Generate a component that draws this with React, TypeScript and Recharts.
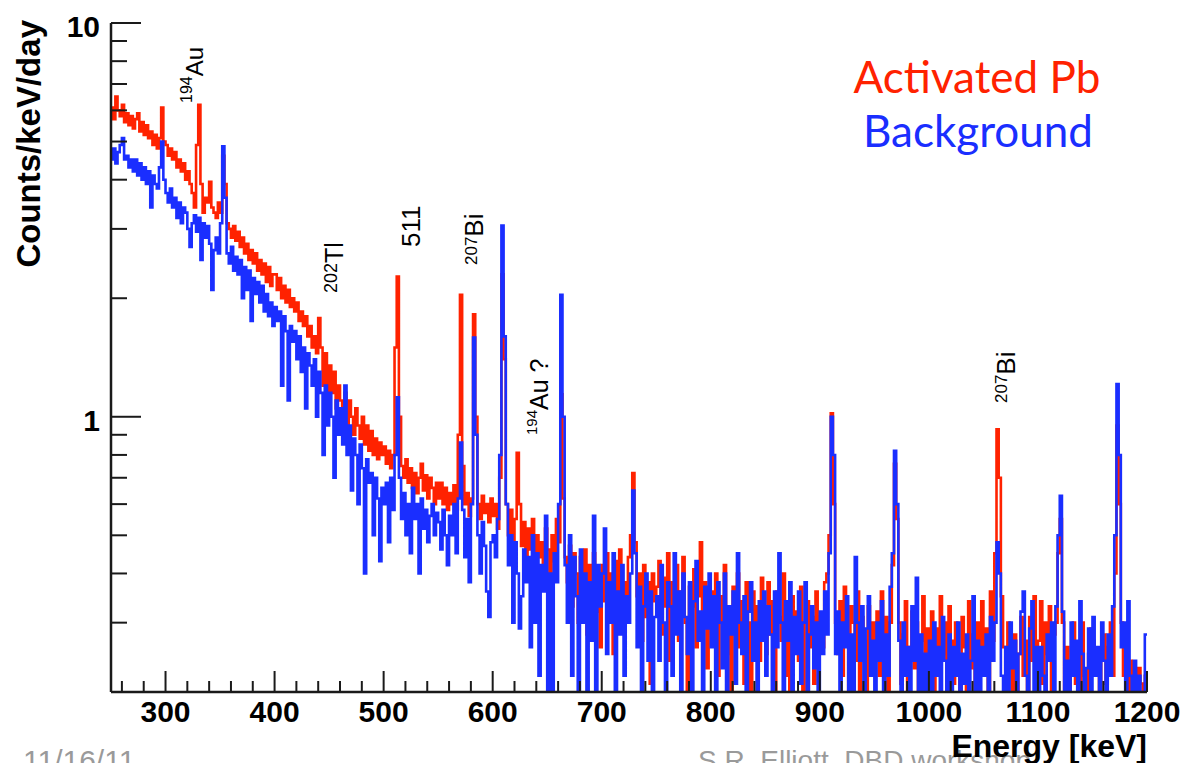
import { LineChart, Line, XAxis, YAxis } from 'recharts'

// 2 keV bins starting at 250 keV, one row of 25 bins per 50 keV
const binStart = 250
const binWidth = 2

// Activated Pb, counts/keV/day
const activated = [
  6.1, 5.7, 6.5, 6.0, 5.8, 6.2, 5.6, 5.9, 5.5, 5.8, 5.4, 5.7, 5.9, 5.3, 5.6, 5.2, 5.5, 5.1, 5.3, 4.9, 5.2, 4.8, 5.1, 6.1, 5.0,
  4.9, 4.6, 4.8, 4.5, 4.7, 4.3, 4.5, 4.2, 4.4, 4.0, 4.2, 3.9, 3.7, 3.4, 4.9, 6.2, 3.9, 3.3, 3.6, 3.5, 3.95, 3.4, 3.3, 3.2, 3.5,
  3.3, 4.6, 3.9, 3.1, 3.0, 2.85, 3.05, 2.8, 2.95, 2.7, 2.85, 2.6, 2.75, 2.5, 2.65, 2.45, 2.6, 2.35, 2.5, 2.3, 2.45, 2.2, 2.4, 2.15, 2.3,
  2.3, 2.1, 2.25, 2.0, 2.15, 1.95, 2.1, 1.9, 2.0, 1.85, 1.95, 1.75, 1.85, 1.7, 1.8, 1.6, 1.7, 1.5, 1.6, 1.45, 1.78, 1.5, 1.2, 1.45, 1.15,
  1.35, 1.15, 1.3, 1.05, 1.2, 1.1, 1.0, 1.15, 0.95, 1.1, 1.0, 0.9, 1.05, 0.95, 0.88, 1.0, 0.85, 0.95, 0.82, 0.92, 0.8, 0.88, 0.78, 0.86, 0.8,
  0.84, 0.76, 0.82, 0.74, 0.8, 1.5, 2.27, 1.0, 0.75, 0.7, 0.78, 0.68, 0.74, 0.66, 0.72, 0.64, 0.7, 0.76, 0.65, 0.71, 0.62, 0.7, 0.66, 0.6, 0.68,
  0.62, 0.68, 0.6, 0.66, 0.58, 0.64, 0.6, 0.67, 0.58, 0.9, 2.04, 0.75, 0.6, 0.64, 0.56, 0.62, 1.82, 1.0, 0.6, 0.55, 0.63, 0.57, 0.6, 0.54, 0.62,
  0.56, 0.6, 0.52, 0.7, 2.3, 1.4, 0.6, 0.5, 0.58, 0.48, 0.55, 0.81, 0.6, 0.47, 0.54, 0.44, 0.52, 0.46, 0.55, 0.42, 0.5, 0.44, 0.48, 0.4, 0.52,
  0.46, 0.4, 0.5, 0.43, 0.55, 0.48, 1.14, 0.62, 0.44, 0.38, 0.47, 0.33, 0.45, 0.4, 0.3, 0.44, 0.37, 0.46, 0.28, 0.42, 0.35, 0.45, 0.32, 0.4, 0.26,
  0.42, 0.34, 0.45, 0.3, 0.4, 0.25, 0.43, 0.36, 0.46, 0.29, 0.38, 0.33, 0.44, 0.5, 0.72, 0.48, 0.35, 0.4, 0.27, 0.42, 0.31, 0.38, 0.21, 0.4, 0.34,
  0.37, 0.43, 0.28, 0.39, 0.33, 0.45, 0.24, 0.38, 0.31, 0.42, 0.27, 0.36, 0.44, 0.3, 0.19, 0.37, 0.33, 0.41, 0.26, 0.35, 0.48, 0.3, 0.38, 0.23, 0.34,
  0.36, 0.28, 0.4, 0.22, 0.35, 0.3, 0.42, 0.25, 0.33, 0.18, 0.37, 0.29, 0.4, 0.26, 0.34, 0.21, 0.38, 0.3, 0.17, 0.36, 0.27, 0.33, 0.24, 0.39, 0.3,
  0.25, 0.38, 0.28, 0.34, 0.2, 0.36, 0.31, 0.27, 0.4, 0.22, 0.33, 0.19, 0.35, 0.28, 0.32, 0.24, 0.37, 0.17, 0.3, 0.34, 0.26, 0.31, 0.21, 0.36, 0.28,
  0.31, 0.26, 0.38, 0.4, 0.5, 1.02, 0.6, 0.3, 0.25, 0.34, 0.22, 0.37, 0.28, 0.19, 0.33, 0.3, 0.24, 0.36, 0.2, 0.31, 0.27, 0.17, 0.33, 0.25, 0.3,
  0.27, 0.32, 0.22, 0.36, 0.24, 0.31, 0.18, 0.3, 0.42, 0.76, 0.55, 0.3, 0.21, 0.28, 0.34, 0.19, 0.26, 0.32, 0.23, 0.3, 0.17, 0.27, 0.35, 0.22, 0.29,
  0.26, 0.32, 0.18, 0.29, 0.22, 0.35, 0.25, 0.3, 0.17, 0.33, 0.27, 0.21, 0.3, 0.24, 0.16, 0.31, 0.26, 0.2, 0.34, 0.23, 0.28, 0.18, 0.3, 0.25, 0.34,
  0.24, 0.29, 0.2, 0.36, 0.27, 0.45, 0.93, 0.7, 0.35, 0.26, 0.18, 0.3, 0.24, 0.2, 0.28, 0.16, 0.25, 0.31, 0.22, 0.27, 0.19, 0.31, 0.24, 0.35, 0.2,
  0.27, 0.34, 0.21, 0.3, 0.25, 0.33, 0.19, 0.28, 0.3, 0.45, 0.55, 0.3, 0.2, 0.26, 0.17, 0.23, 0.3, 0.21, 0.26, 0.18, 0.3, 0.22, 0.16, 0.25, 0.29,
  0.27, 0.22, 0.25, 0.19, 0.24, 0.28, 0.21, 0.26, 0.3, 0.22, 0.4, 0.95, 0.6, 0.3, 0.22, 0.25, 0.18, 0.24, 0.2, 0.22, 0.17, 0.23, 0.21, 0.19, 0.22,
]

// Background, counts/keV/day
const background = [
  4.5, 4.8, 4.4, 4.7, 4.9, 5.1, 4.5, 4.6, 4.3, 4.5, 4.2, 4.5, 4.1, 4.4, 4.0, 4.3, 3.9, 4.2, 3.4, 4.1, 3.9, 3.8, 4.3, 5.0, 4.0,
  3.7, 3.5, 3.8, 3.4, 3.6, 3.2, 3.5, 3.1, 3.4, 3.3, 3.0, 2.7, 3.1, 3.25, 2.95, 3.2, 2.5, 3.1, 2.85, 3.05, 2.75, 2.1, 2.65, 2.85, 2.6,
  3.1, 4.86, 3.6, 2.6, 2.45, 2.7, 2.35, 2.55, 2.3, 2.5, 2.0, 2.4, 2.1, 2.35, 1.75, 2.25, 2.05, 2.2, 1.95, 2.15, 1.85, 2.05, 1.8, 1.95, 1.7,
  1.9, 1.75, 1.85, 1.2, 1.8, 1.65, 1.1, 1.7, 1.55, 1.65, 1.4, 1.6, 1.3, 1.5, 1.05, 1.45, 1.35, 1.2, 1.4, 1.0, 1.3, 1.15, 0.8, 1.2, 0.95,
  1.15, 1.0, 0.7, 1.1, 0.9, 1.05, 0.85, 1.2, 0.8, 0.95, 0.65, 0.88, 0.8, 0.6, 0.85, 0.74, 0.4, 0.78, 0.68, 0.72, 0.5, 0.7, 0.62, 0.43, 0.66,
  0.6, 0.68, 0.48, 0.7, 0.58, 0.8, 1.12, 0.7, 0.55, 0.64, 0.5, 0.6, 0.45, 0.66, 0.55, 0.6, 0.4, 0.62, 0.52, 0.58, 0.48, 0.56, 0.6, 0.5, 0.57,
  0.54, 0.46, 0.58, 0.5, 0.42, 0.56, 0.5, 0.6, 0.45, 0.62, 0.86, 0.58, 0.44, 0.55, 0.38, 0.6, 1.59, 0.9, 0.5, 0.4, 0.54, 0.47, 0.36, 0.31, 0.48,
  0.5, 0.44, 0.55, 0.8, 3.06, 1.6, 0.6, 0.42, 0.5, 0.3, 0.48, 0.4, 0.29, 0.35, 0.46, 0.38, 0.44, 0.26, 0.5, 0.3, 0.45, 0.22, 0.42, 0.36, 0.56,
  0.17, 0.4, 0.16, 0.45, 0.38, 0.6, 2.04, 1.0, 0.42, 0.3, 0.5, 0.22, 0.44, 0.35, 0.18, 0.46, 0.3, 0.4, 0.17, 0.38, 0.27, 0.56, 0.2, 0.42, 0.33,
  0.4, 0.52, 0.25, 0.38, 0.3, 0.45, 0.19, 0.36, 0.28, 0.42, 0.22, 0.35, 0.3, 0.4, 0.65, 0.45, 0.26, 0.37, 0.17, 0.33, 0.4, 0.24, 0.36, 0.19, 0.31,
  0.35, 0.24, 0.42, 0.3, 0.18, 0.38, 0.33, 0.22, 0.45, 0.28, 0.36, 0.17, 0.4, 0.31, 0.25, 0.38, 0.2, 0.34, 0.43, 0.27, 0.32, 0.16, 0.37, 0.29, 0.4,
  0.26, 0.35, 0.19, 0.38, 0.3, 0.23, 0.4, 0.17, 0.33, 0.28, 0.36, 0.21, 0.45, 0.3, 0.25, 0.35, 0.18, 0.32, 0.38, 0.24, 0.3, 0.17, 0.34, 0.27, 0.36,
  0.22, 0.33, 0.28, 0.17, 0.36, 0.26, 0.45, 0.3, 0.2, 0.34, 0.27, 0.38, 0.16, 0.31, 0.25, 0.36, 0.21, 0.3, 0.38, 0.18, 0.28, 0.33, 0.23, 0.3, 0.19,
  0.32, 0.25, 0.36, 0.28, 0.45, 1.0, 0.8, 0.25, 0.32, 0.18, 0.3, 0.26, 0.35, 0.2, 0.28, 0.17, 0.44, 0.3, 0.24, 0.33, 0.18, 0.29, 0.35, 0.22, 0.27,
  0.16, 0.3, 0.24, 0.34, 0.18, 0.28, 0.22, 0.37, 0.45, 0.82, 0.6, 0.27, 0.17, 0.3, 0.22, 0.26, 0.16, 0.33, 0.24, 0.39, 0.18, 0.28, 0.2, 0.25, 0.17,
  0.27, 0.17, 0.3, 0.22, 0.26, 0.16, 0.31, 0.24, 0.19, 0.28, 0.15, 0.26, 0.22, 0.3, 0.17, 0.25, 0.21, 0.28, 0.16, 0.24, 0.35, 0.18, 0.27, 0.2, 0.26,
  0.22, 0.28, 0.17, 0.31, 0.24, 0.3, 0.48, 0.4, 0.22, 0.18, 0.26, 0.16, 0.3, 0.23, 0.27, 0.19, 0.25, 0.32, 0.36, 0.22, 0.17, 0.29, 0.34, 0.2, 0.26,
  0.18, 0.26, 0.22, 0.17, 0.28, 0.24, 0.3, 0.2, 0.33, 0.5, 0.63, 0.32, 0.18, 0.24, 0.16, 0.3, 0.22, 0.27, 0.19, 0.34, 0.25, 0.17, 0.23, 0.29, 0.2,
  0.31, 0.22, 0.26, 0.19, 0.3, 0.24, 0.17, 0.28, 0.22, 0.33, 0.5, 1.21, 0.8, 0.26, 0.3, 0.19, 0.34, 0.22, 0.17, 0.24, 0.19, 0.22, 0.17, 0.2, 0.28,
]

const xTicks = [
  260, 280, 300, 320, 340, 360, 380, 400, 420, 440, 460, 480, 500, 520, 540, 560,
  580, 600, 620, 640, 660, 680, 700, 720, 740, 760, 780, 800, 820, 840, 860, 880,
  900, 920, 940, 960, 980, 1000, 1020, 1040, 1060, 1080, 1100, 1120, 1140, 1160,
  1180, 1200,
]
const xLabels = [300, 400, 500, 600, 700, 800, 900, 1000, 1100, 1200]
const yTicks = [0.2, 0.3, 0.4, 0.5, 0.6, 0.7, 0.8, 0.9, 1, 2, 3, 4, 5, 6, 7, 8, 9, 10]
const yLabels = [1, 10]

const energies = activated.map((_, i) => binStart + binWidth * i)
const rows = energies.map((e, i) => ({ e, act: activated[i], bkg: background[i] }))
// close the last bin
rows.push({
  e: energies[energies.length - 1] + binWidth,
  act: activated[activated.length - 1],
  bkg: background[background.length - 1],
})

const RED = '#ff2200'
const BLUE = '#1a2eff'
const INK = '#1a1a1a'
const AXIS_FONT = '"Liberation Sans", Arial, Helvetica, sans-serif'

function XTick(props: any) {
  const { x, y, payload } = props
  const major = xLabels.includes(payload.value)
  return (
    <g>
      <line x1={x} x2={x} y1={y} y2={y - (major ? 21 : 11)} stroke={INK} strokeWidth={2} />
      {major && (
        <text x={x} y={y + 30} textAnchor="middle" fontFamily={AXIS_FONT} fontWeight="bold" fontSize={30} fill="#000">
          {payload.value}
        </text>
      )}
    </g>
  )
}

function YTick(props: any) {
  const { x, y, payload } = props
  const major = yLabels.includes(payload.value)
  return (
    <g>
      <line x1={x} x2={x + (major ? 30 : 16)} y1={y} y2={y} stroke={INK} strokeWidth={2} />
      {major && (
        <text x={x - 11} y={y + 14} textAnchor="end" fontFamily={AXIS_FONT} fontWeight="bold" fontSize={30} fill="#000">
          {payload.value}
        </text>
      )}
    </g>
  )
}

const frame = { stroke: INK, strokeWidth: 2.5 }
const label = { fontFamily: AXIS_FONT, fill: '#000' }

export default function App() {
  return (
    <div style={{ position: 'relative', width: 1187, height: 763, overflow: 'hidden', background: '#fff' }}>
      <style>{'body{margin:0}'}</style>

      <LineChart width={1187} height={763} data={rows} margin={{ top: 23, right: 40, bottom: 0, left: 0 }}>
        <XAxis
          dataKey="e"
          type="number"
          domain={[250, 1200]}
          allowDataOverflow
          ticks={xTicks}
          interval={0}
          tickLine={false}
          tickSize={0}
          tickMargin={0}
          tick={<XTick />}
          height={71}
          axisLine={frame}
        />
        <XAxis
          xAxisId="top"
          orientation="top"
          dataKey="e"
          type="number"
          domain={[250, 1200]}
          allowDataOverflow
          height={0}
          tick={false}
          tickLine={false}
          axisLine={frame}
        />
        <YAxis
          scale="log"
          type="number"
          domain={[0.2, 10]}
          allowDataOverflow
          ticks={yTicks}
          interval={0}
          tickLine={false}
          tickSize={0}
          tickMargin={0}
          tick={<YTick />}
          width={111}
          axisLine={frame}
        />
        <YAxis
          yAxisId="right"
          orientation="right"
          scale="log"
          type="number"
          domain={[0.2, 10]}
          allowDataOverflow
          width={0}
          tick={false}
          tickLine={false}
          axisLine={frame}
        />
        <Line type="stepAfter" dataKey="act" stroke={RED} strokeWidth={2.6} dot={false} isAnimationActive={false} />
        <Line type="stepAfter" dataKey="bkg" stroke={BLUE} strokeWidth={2.6} dot={false} isAnimationActive={false} />
      </LineChart>

      <svg width={1187} height={763} style={{ position: 'absolute', left: 0, top: 0, pointerEvents: 'none' }}>
        {/* slide footer */}
        <text x={23} y={771} fontFamily={AXIS_FONT} fontSize={30} fill="#9a9a9a">11/16/11</text>
        <text x={698} y={770} fontFamily={AXIS_FONT} fontSize={28} fill="#9a9a9a">S.R. Elliott, DBD workshop</text>

        {/* axis titles */}
        <text transform="translate(40,20) rotate(-90)" textAnchor="end" fontWeight="bold" fontSize={33} {...label}>
          Counts/keV/day
        </text>
        <text x={1147} y={757} textAnchor="end" fontWeight="bold" fontSize={32} {...label}>
          Energy [keV]
        </text>

        {/* legend */}
        <text x={977} y={93} textAnchor="middle" fontFamily="Lato, sans-serif" fontSize={44} fill={RED}>
          Activated Pb
        </text>
        <text x={978} y={147} textAnchor="middle" fontFamily="Lato, sans-serif" fontSize={44} fill={BLUE}>
          Background
        </text>

        {/* peak annotations */}
        <text transform="translate(203,103) rotate(-90)" {...label}>
          <tspan fontSize={16} dy={-11}>194</tspan>
          <tspan fontSize={24} dy={11}>Au</tspan>
        </text>
        <text transform="translate(343,293) rotate(-90)" {...label}>
          <tspan fontSize={18} dy={-6}>202</tspan>
          <tspan fontSize={25} dy={6}>Tl</tspan>
        </text>
        <text transform="translate(420,247) rotate(-90)" fontSize={26} {...label}>
          511
        </text>
        <text transform="translate(483,265) rotate(-90)" {...label}>
          <tspan fontSize={17} dy={-6}>207</tspan>
          <tspan fontSize={26} dy={6}>Bi</tspan>
        </text>
        <text transform="translate(548,435) rotate(-90)" {...label}>
          <tspan fontSize={15} dy={-11}>194</tspan>
          <tspan fontSize={25} dy={11}>Au ?</tspan>
        </text>
        <text transform="translate(1015,403) rotate(-90)" {...label}>
          <tspan fontSize={17} dy={-8}>207</tspan>
          <tspan fontSize={26} dy={8}>Bi</tspan>
        </text>
      </svg>
    </div>
  )
}
